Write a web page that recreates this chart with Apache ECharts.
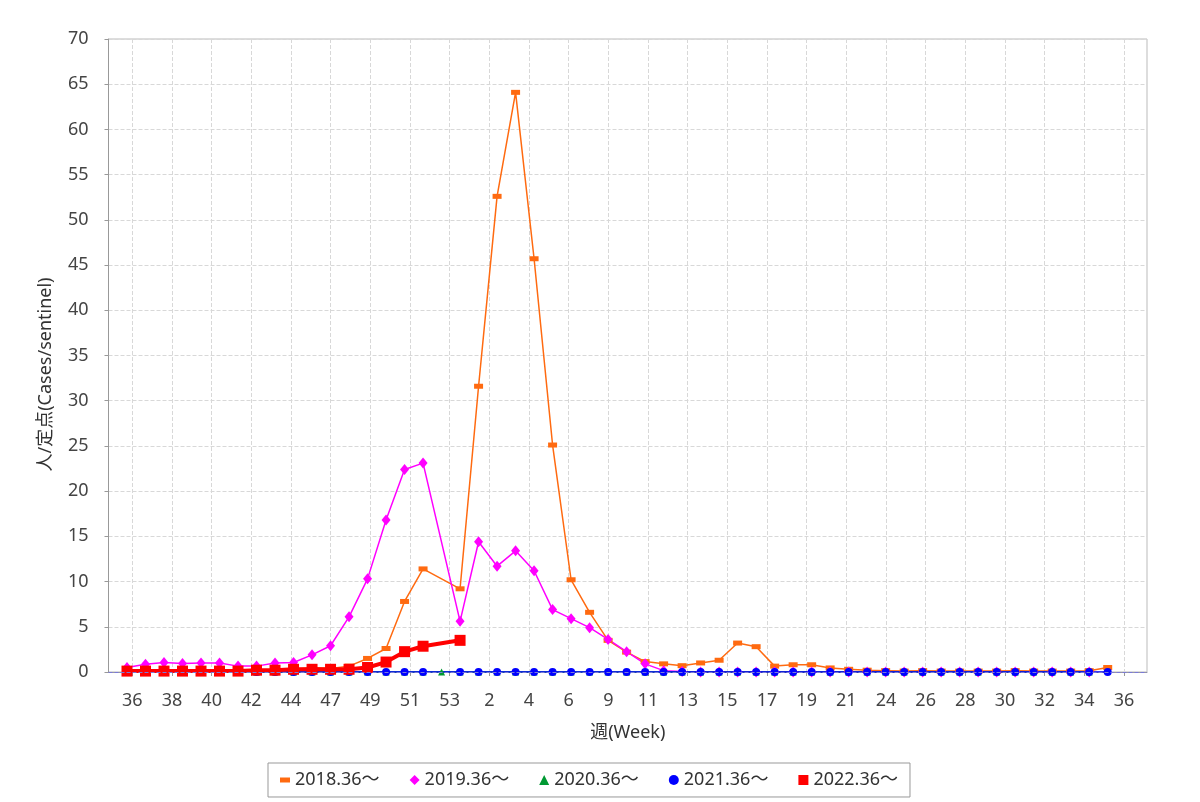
<!DOCTYPE html>
<html>
<head>
<meta charset="utf-8">
<script src="https://cdn.jsdelivr.net/npm/echarts@6/dist/echarts.min.js"></script>
<style>
html,body{margin:0;padding:0;background:#fff;}
#chart{width:1200px;height:802px;}
</style>
</head>
<body>
<div id="chart"></div>
<script>
// Week categories (data positions): 36..53, 1..36
const weeks = ['36','37','38','39','40','41','42','43','44','45','46','47','48','49','50','51','52','53',
  '1','2','3','4','5','6','7','8','9','10','11','12','13','14','15','16','17','18','19','20',
  '21','22','23','24','25','26','27','28','29','30','31','32','33','34','35','36'];

// Tick labels shown on the week axis
const tickLabels = ['36','38','40','42','44','47','49','51','53','2','4','6','9','11','13','15','17','19','21','24','26','28','30','32','34','36'];

const seriesNames = ['2018.36～','2019.36～','2020.36～','2021.36～','2022.36～'];

const s2018 = [0.2,0.2,0.1,0.1,0.1,0.1,0.1,0.1,0.2,0.3,0.5,0.4,0.65,1.5,2.6,7.8,11.4,null,
  9.2,31.6,52.6,64.1,45.7,25.1,10.2,6.6,3.5,2.2,1.15,0.9,0.7,1.0,1.3,3.2,2.8,0.65,0.8,0.8,
  0.45,0.3,0.2,0.15,0.1,0.15,0.1,0.1,0.1,0.1,0.15,0.1,0.1,0.1,0.15,0.5];

const s2019 = [0.5,0.85,1.05,0.95,1.0,1.0,0.65,0.65,1.0,1.05,1.9,2.9,6.1,10.3,16.8,22.4,23.1,null,
  5.6,14.4,11.7,13.4,11.2,6.9,5.9,4.9,3.6,2.25,0.9,0.15,0.05,0,0,0,0,0,0,0,
  0,0,0,0,0,0,0,0,0,0,0,0,0,0,0];

const s2020 = [0,0,0,0,0,0,0,0,0,0,0,0,0,0,0,0,0,0,
  0,0,0,0,0,0,0,0,0,0,0,0,0,0,0,0,0,0,0,0,
  0,0,0,0,0,0,0,0,0,0,0,0,0,0,0];

const s2021 = [0,0,0,0,0,0,0,0,0,0,0,0,0,0,0,0,0,null,
  0,0,0,0,0,0,0,0,0,0,0,0,0,0,0,0,0,0,0,0,
  0,0,0,0,0,0,0,0,0,0,0,0,0,0,0,0];

const s2022 = [0.1,0.1,0.1,0.1,0.1,0.1,0.1,0.2,0.2,0.3,0.3,0.3,0.3,0.5,1.1,2.25,2.85,null,3.5];

const FONT = '"Noto Sans", "Noto Sans CJK JP", sans-serif';
const chart = echarts.init(document.getElementById('chart'));

const orangeSym = 'path://M0,0h10v5h-10z';

function lineSeries(name, data, color, symbol, size, width) {
  return {
    name: name, type: 'line', xAxisIndex: 2, yAxisIndex: 2,
    data: data, connectNulls: true, showSymbol: true, showAllSymbol: true,
    symbol: symbol, symbolSize: size,
    itemStyle: { color: color }, lineStyle: { color: color, width: width },
    emphasis: { disabled: true }
  };
}

chart.setOption({
  animation: false,
  backgroundColor: '#fff',
  textStyle: { fontFamily: FONT },
  grid: [
    { left: 108.5, top: 39, width: 1038.5, height: 633, show: true, borderColor: '#bbb', borderWidth: 1, backgroundColor: '#fff' },
    { left: 132.3, top: 39, width: 991.7, height: 633 },
    { left: 127, top: 39, width: 980.7, height: 633 }
  ],
  xAxis: [
    { gridIndex: 0, type: 'value', min: 0, max: 1, offset: 9,
      axisLine: { show: true, lineStyle: { color: '#999', width: 1 } },
      axisTick: { show: false }, axisLabel: { show: false }, splitLine: { show: false },
      name: '週(Week)', nameLocation: 'middle', nameGap: 43,
      nameTextStyle: { fontSize: 18, color: '#333', fontFamily: FONT } },
    { gridIndex: 1, type: 'category', data: tickLabels, boundaryGap: false, offset: 9,
      axisLine: { show: true, lineStyle: { color: '#999', width: 1 } },
      axisTick: { show: true, length: 4, lineStyle: { color: '#999' } },
      axisLabel: { interval: 0, margin: 11, fontSize: 18, color: '#444', fontFamily: FONT },
      splitLine: { show: true, interval: 0, lineStyle: { type: 'dashed', color: '#d8d8d8', width: 1 } } },
    { gridIndex: 2, type: 'category', data: weeks, boundaryGap: false, show: false }
  ],
  yAxis: [
    { gridIndex: 0, type: 'value', min: 0, max: 70, interval: 5, offset: 8,
      axisLine: { show: true, lineStyle: { color: '#999', width: 1 } },
      axisTick: { show: true, length: 4, lineStyle: { color: '#999' } },
      axisLabel: { fontSize: 18, color: '#444', margin: 12, fontFamily: FONT },
      splitLine: { show: true, lineStyle: { type: 'dashed', color: '#d8d8d8', width: 1 } },
      name: '人/定点(Cases/sentinel)', nameLocation: 'middle', nameGap: 46, nameRotate: 90,
      nameTextStyle: { fontSize: 18, color: '#333', fontFamily: FONT, padding: [0, 38, 0, 0] } },
    { gridIndex: 1, type: 'value', min: 0, max: 70, show: false },
    { gridIndex: 2, type: 'value', min: 0, max: 70, show: false }
  ],
  legend: {
    left: 268, top: 763, orient: 'horizontal',
    borderColor: '#999', borderWidth: 1, padding: [8, 12, 8, 12],
    itemGap: 30, itemWidth: 10, itemHeight: 10,
    textStyle: { fontSize: 18, color: '#333', fontFamily: FONT },
    data: [
      { name: seriesNames[0], icon: orangeSym },
      { name: seriesNames[1], icon: 'diamond' },
      { name: seriesNames[2], icon: 'triangle' },
      { name: seriesNames[3], icon: 'circle' },
      { name: seriesNames[4], icon: 'rect' }
    ]
  },
  series: [
    { name: 'zero', type: 'line', xAxisIndex: 0, yAxisIndex: 0, data: [],
      markLine: { silent: true, symbol: 'none', label: { show: false },
        lineStyle: { color: '#7a7ad8', type: 'dashed', width: 1 },
        data: [{ yAxis: 0 }] } },
    lineSeries(seriesNames[0], s2018, '#ff6a10', orangeSym, [9, 5], 1.5),
    lineSeries(seriesNames[1], s2019, '#ff00ff', 'diamond', [9, 11], 1.5),
    lineSeries(seriesNames[2], s2020, '#009933', 'triangle', 7, 1.5),
    lineSeries(seriesNames[3], s2021, '#0000ff', 'circle', 8, 1.5),
    lineSeries(seriesNames[4], s2022, '#ff0000', 'rect', 11, 4)
  ]
});
</script>
</body>
</html>
